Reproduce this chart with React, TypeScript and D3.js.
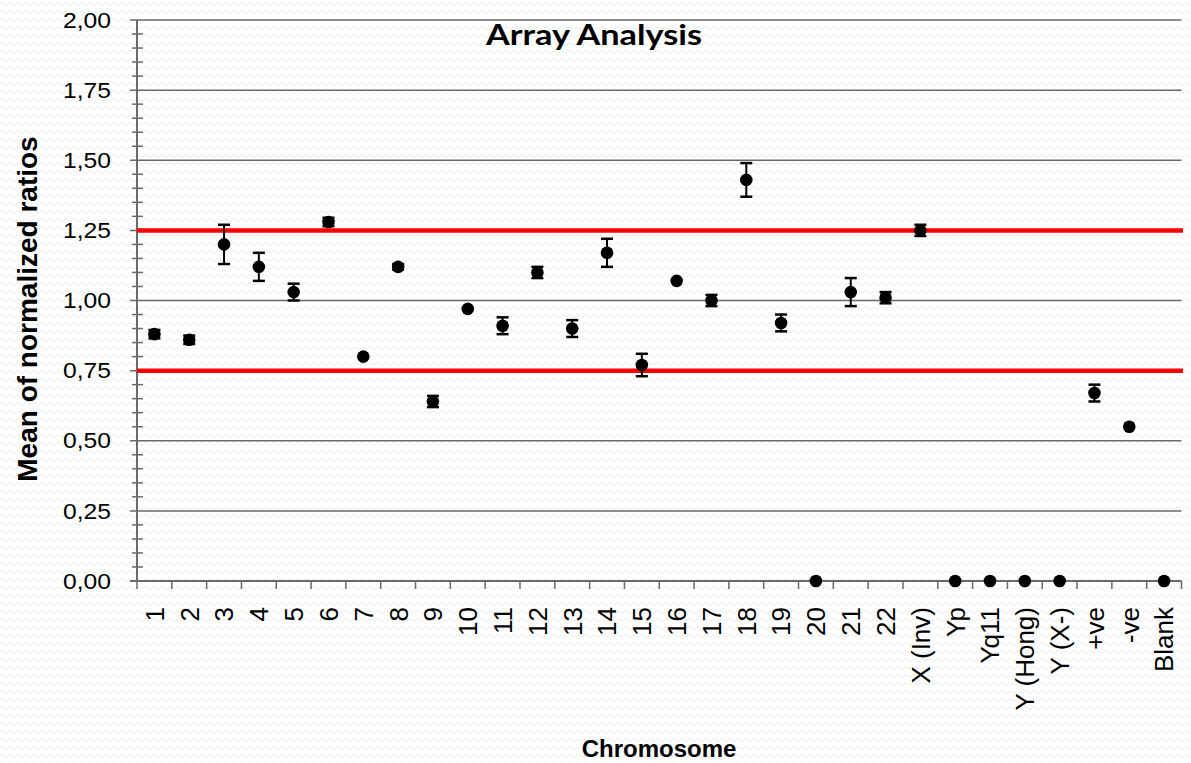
import React from 'react'
import * as d3 from 'd3'

// chromosome categories along the x axis
const categories = [
  '1', '2', '3', '4', '5', '6', '7', '8', '9', '10', '11', '12', '13', '14', '15',
  '16', '17', '18', '19', '20', '21', '22', 'X (Inv)', 'Yp', 'Yq11', 'Y (Hong)', 'Y (X-)',
  '+ve', '-ve', 'Blank',
]

// mean of normalized ratios per category
const means = [
  0.88, 0.86, 1.2, 1.12, 1.03, 1.28, 0.8, 1.12, 0.64, 0.97, 0.91, 1.1, 0.9, 1.17, 0.77,
  1.07, 1.0, 1.43, 0.92, 0, 1.03, 1.01, 1.25, 0, 0, 0, 0, 0.67, 0.55, 0,
]

// error bar half-widths
const errors = [
  0.015, 0.015, 0.07, 0.05, 0.03, 0.015, 0, 0.01, 0.02, 0, 0.03, 0.02, 0.03, 0.05, 0.04,
  0, 0.02, 0.06, 0.03, 0, 0.05, 0.02, 0.02, 0, 0, 0, 0, 0.03, 0, 0,
]

const yTicks = [0, 0.25, 0.5, 0.75, 1, 1.25, 1.5, 1.75, 2]
const thresholds = [0.75, 1.25]

const W = 1191
const H = 763
const left = 137
const right = 1181.5
const top = 20
const bottom = 581

export default function App() {
  const x = d3.scaleBand().domain(categories).range([left, right]).padding(0)
  const y = d3.scaleLinear().domain([0, 2]).range([bottom, top])
  const minorTicks = d3.range(0, 2.0001, 0.05).filter((v) => Math.abs(v / 0.25 - Math.round(v / 0.25)) > 1e-6)
  const fmt = (v: number) => d3.format('.2f')(v).replace('.', ',')
  const axisColor = '#6a6a6a'
  const cx = (c: string) => (x(c) as number) + x.bandwidth() / 2

  return (
    <svg width={W} height={H} style={{ position: 'absolute', left: 0, top: 0 }} fontFamily="'Liberation Sans', Arial, sans-serif">
      <defs>
        <pattern id="wave" width="8" height="8" patternUnits="userSpaceOnUse">
          <path d="M0,4 Q2,1.5 4,4 T8,4" fill="none" stroke="#ececec" strokeWidth="1" />
        </pattern>
      </defs>
      <rect width={W} height={H} fill="#ffffff" />
      <rect width={W} height={H} fill="url(#wave)" />

      {/* horizontal gridlines */}
      {yTicks.map((t) => (
        <line key={'g' + t} x1={left - 7} x2={right} y1={y(t)} y2={y(t)} stroke={axisColor} strokeWidth={t === 0 ? 2 : 1.5} />
      ))}

      {/* minor y ticks */}
      {minorTicks.map((t) => (
        <line key={'m' + t} x1={left - 5} x2={left + 6} y1={y(t)} y2={y(t)} stroke={axisColor} strokeWidth={1.5} />
      ))}

      {/* y axis line */}
      <line x1={left} x2={left} y1={top} y2={bottom} stroke={axisColor} strokeWidth={2} />

      {/* x ticks at category boundaries */}
      {categories.concat(['end']).map((c, i) => {
        const px = i < categories.length ? (x(c) as number) : right
        return <line key={'xt' + i} x1={px} x2={px} y1={bottom} y2={bottom + 8} stroke={axisColor} strokeWidth={1.5} />
      })}

      {/* y tick labels */}
      {yTicks.map((t) => (
        <text key={'yl' + t} x={111} y={y(t)} dy="0.35em" textAnchor="end" fontSize={22} textLength={48} lengthAdjust="spacingAndGlyphs" fill="#000">
          {fmt(t)}
        </text>
      ))}

      {/* x tick labels */}
      {categories.map((c) => (
        <text
          key={'xl' + c}
          transform={`translate(${cx(c)},${607}) rotate(-90)`}
          textAnchor="end"
          dy="0.36em"
          fontSize={26}
          fill="#000"
        >
          {c}
        </text>
      ))}

      {/* threshold lines */}
      {thresholds.map((t) => (
        <line key={'r' + t} x1={left} x2={1183} y1={y(t)} y2={y(t)} stroke="#ff0000" strokeWidth={4.5} />
      ))}

      {/* error bars */}
      {categories.map((c, i) =>
        errors[i] > 0 ? (
          <g key={'e' + c} stroke="#000">
            <line x1={cx(c)} x2={cx(c)} y1={y(means[i] + errors[i])} y2={y(means[i] - errors[i])} strokeWidth={2} />
            <line x1={cx(c) - 6} x2={cx(c) + 6} y1={y(means[i] + errors[i])} y2={y(means[i] + errors[i])} strokeWidth={2.5} />
            <line x1={cx(c) - 6} x2={cx(c) + 6} y1={y(means[i] - errors[i])} y2={y(means[i] - errors[i])} strokeWidth={2.5} />
          </g>
        ) : null
      )}

      {/* points */}
      {categories.map((c, i) => (
        <circle key={'p' + c} cx={cx(c)} cy={y(means[i])} r={6.3} fill="#000" />
      ))}

      {/* titles */}
      <text x={594} y={45} textAnchor="middle" fontFamily="Lato, 'Open Sans', sans-serif" fontWeight="bold" fontSize={29} textLength={216} lengthAdjust="spacingAndGlyphs">
        Array Analysis
      </text>
      <text transform="translate(37,309) rotate(-90)" textAnchor="middle" fontWeight="bold" fontSize={28}>
        Mean of normalized ratios
      </text>
      <text x={659} y={757} textAnchor="middle" fontWeight="bold" fontSize={24}>
        Chromosome
      </text>
    </svg>
  )
}
